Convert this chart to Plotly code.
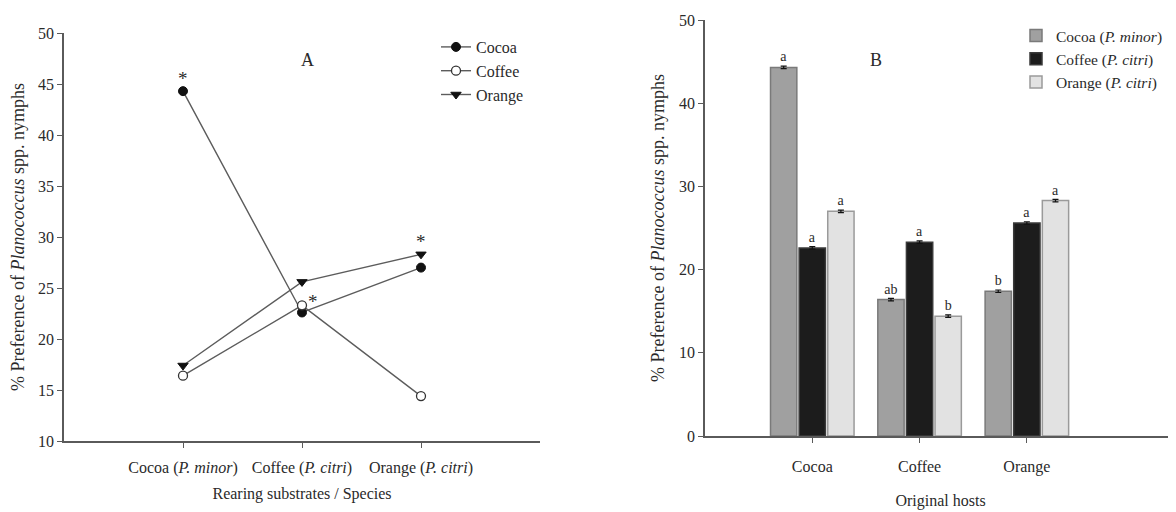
import plotly.graph_objects as go

# ---- data ----
substrates = ["Cocoa (<i>P. minor</i>)", "Coffee (<i>P. citri</i>)", "Orange (<i>P. citri</i>)"]
hosts = ["Cocoa", "Coffee", "Orange"]

# Panel A: series = original host, x = rearing substrate
cocoa_A = [44.3, 22.6, 27.0]
coffee_A = [16.4, 23.3, 14.4]
orange_A = [17.4, 25.6, 28.3]

# Panel B: series = rearing substrate, x = original host
cocoa_B = [44.3, 16.4, 17.4]
coffee_B = [22.6, 23.3, 25.6]
orange_B = [27.0, 14.4, 28.3]
err_B = [0.15, 0.15, 0.15]
letters_cocoa_B = ["a", "ab", "b"]
letters_coffee_B = ["a", "a", "a"]
letters_orange_B = ["a", "b", "a"]

# asterisks in panel A (category index, y value)
star_x = [0, 1, 2]
star_y = [45.8, 24.0, 29.9]

# page is offset by the default 8px body margin; figure fills the rest of the window
OFF = 8
W, H = 1176 - OFF, 512 - OFF


def px(p):
    return (p - OFF) / W


def py(p):
    return 1 - (p - OFF) / H


FONT = "Liberation Serif"
AX = "#5a5a5a"
TXT = "#2a2a2a"

fig = go.Figure()

xA = [0, 1, 2]
line_style = dict(color="#5c5c5c", width=1.4)
fig.add_trace(go.Scatter(x=xA, y=cocoa_A, name="Cocoa", mode="lines+markers",
                         line=line_style, marker=dict(symbol="circle", size=9, color="#111111",
                                                      line=dict(color="#111111", width=1)),
                         xaxis="x", yaxis="y", legend="legend"))
fig.add_trace(go.Scatter(x=xA, y=coffee_A, name="Coffee", mode="lines+markers",
                         line=line_style, marker=dict(symbol="circle", size=9, color="white",
                                                      line=dict(color="#333333", width=1.3)),
                         xaxis="x", yaxis="y", legend="legend"))
fig.add_trace(go.Scatter(x=xA, y=orange_A, name="Orange", mode="lines+markers",
                         line=line_style, marker=dict(symbol="triangle-down", size=9, color="#111111",
                                                      line=dict(color="#111111", width=1)),
                         xaxis="x", yaxis="y", legend="legend"))

bar_specs = [
    ("Cocoa (<i>P. minor</i>)", cocoa_B, letters_cocoa_B, "#a0a0a0", "#7a7a7a"),
    ("Coffee (<i>P. citri</i>)", coffee_B, letters_coffee_B, "#1c1c1c", "#3a3a3a"),
    ("Orange (<i>P. citri</i>)", orange_B, letters_orange_B, "#e2e2e2", "#9a9a9a"),
]
for name, vals, lets, col, lcol in bar_specs:
    fig.add_trace(go.Bar(x=hosts, y=vals, name=name, marker=dict(color=col, line=dict(color=lcol, width=1.5)),
                         error_y=dict(type="data", array=err_B, color="#111111", thickness=1.2, width=3),
                         text=lets, textposition="outside", cliponaxis=False,
                         textfont=dict(family=FONT, size=14, color=TXT),
                         xaxis="x2", yaxis="y2", legend="legend2"))

for xi, yi, xs in zip(star_x, star_y, [0, 11, 0]):
    fig.add_annotation(x=xi, y=yi, xref="x", yref="y", text="*", showarrow=False,
                       xshift=xs, yshift=-3, font=dict(family=FONT, size=19, color=TXT))

fig.add_annotation(x=px(307), y=py(60), xref="paper", yref="paper", text="A", showarrow=False,
                   xanchor="center", yanchor="middle", font=dict(family=FONT, size=18, color=TXT))
fig.add_annotation(x=px(876), y=py(60), xref="paper", yref="paper", text="B", showarrow=False,
                   xanchor="center", yanchor="middle", font=dict(family=FONT, size=18, color=TXT))

ytitle = "% Preference of <i>Planococcus</i> spp. nymphs"
common_axis = dict(showline=True, linecolor=AX, linewidth=1.5, ticks="outside", tickcolor=AX,
                   ticklen=5, showgrid=False, zeroline=False, automargin=False,
                   tickfont=dict(family=FONT, size=16, color=TXT))

fig.update_layout(
    width=W, height=H, margin=dict(l=0, r=0, t=0, b=0, autoexpand=False),
    paper_bgcolor="white", plot_bgcolor="white",
    font=dict(family=FONT, size=16, color=TXT),
    barmode="group", bargap=0.2, bargroupgap=0.08,
    xaxis=dict(domain=[px(64), px(540)], range=[-1, 3], tickvals=xA, ticktext=substrates,
               ticklabelstandoff=6,
               title=dict(text="Rearing substrates / Species", standoff=12,
                          font=dict(family=FONT, size=16)), anchor="y", **common_axis),
    yaxis=dict(domain=[py(441), py(33)], range=[10, 50], dtick=5,
               title=dict(text=ytitle, standoff=10, font=dict(family=FONT, size=18)),
               anchor="x", **common_axis),
    xaxis2=dict(domain=[px(705), 1.0], range=[-1, 3.39], type="category",
                ticklabelstandoff=10,
                title=dict(text="Original hosts", standoff=20, font=dict(family=FONT, size=16)),
                anchor="y2", **common_axis),
    yaxis2=dict(domain=[py(436), py(20)], range=[0, 50], dtick=10,
                title=dict(text=ytitle, standoff=10, font=dict(family=FONT, size=18)),
                anchor="x2", **common_axis),
    legend=dict(x=px(436), y=py(30), xanchor="left", yanchor="top", bgcolor="rgba(0,0,0,0)",
                font=dict(family=FONT, size=16, color=TXT), tracegroupgap=0, itemwidth=30),
    legend2=dict(x=px(1016), y=py(19), xanchor="left", yanchor="top", bgcolor="rgba(0,0,0,0)",
                 font=dict(family=FONT, size=15.5, color=TXT), tracegroupgap=0, itemwidth=30),
    showlegend=True,
)

fig.write_html("out.html")
